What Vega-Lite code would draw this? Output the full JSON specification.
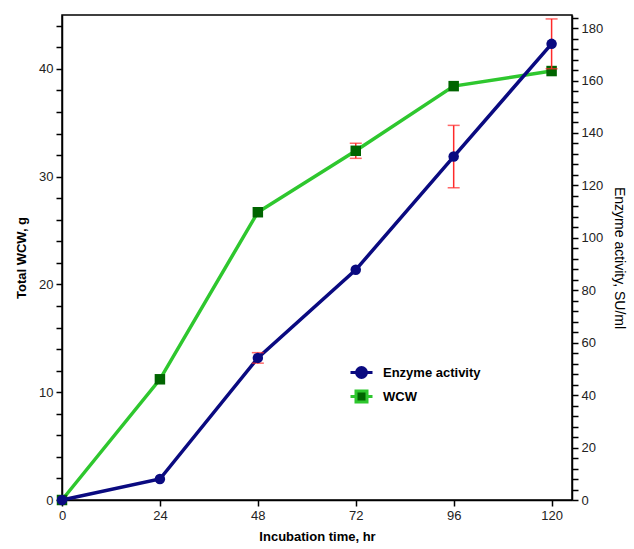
{
  "$schema": "https://vega.github.io/schema/vega-lite/v6.json",
  "width": 510,
  "height": 485,
  "autosize": {"type": "none"},
  "padding": {"left": 62, "top": 15, "right": 62, "bottom": 49},
  "background": "white",
  "config": {
    "font": "Liberation Sans",
    "view": {"stroke": "black", "strokeWidth": 1.5},
    "axis": {
      "grid": false,
      "domainColor": "black",
      "domainWidth": 1.5,
      "tickColor": "black",
      "tickWidth": 1.5,
      "tickSize": 6,
      "labelColor": "#222",
      "labelFontSize": 13,
      "labelPadding": 3,
      "labelOverlap": false,
      "labelFlush": false,
      "titleFontSize": 13,
      "titleFontWeight": "bold",
      "titleColor": "black"
    }
  },
  "data": {
    "values": [
      {"time": 0, "wcw": 0, "wcw_lo": null, "wcw_hi": null, "enz": 0, "enz_lo": null, "enz_hi": null},
      {"time": 24, "wcw": 11.2, "wcw_lo": null, "wcw_hi": null, "enz": 8.0, "enz_lo": null, "enz_hi": null},
      {"time": 48, "wcw": 26.7, "wcw_lo": null, "wcw_hi": null, "enz": 54.2, "enz_lo": 52.2, "enz_hi": 56.2},
      {"time": 72, "wcw": 32.4, "wcw_lo": 31.7, "wcw_hi": 33.1, "enz": 87.8, "enz_lo": null, "enz_hi": null},
      {"time": 96, "wcw": 38.4, "wcw_lo": null, "wcw_hi": null, "enz": 131.0, "enz_lo": 119.1, "enz_hi": 142.9},
      {"time": 120, "wcw": 39.8, "wcw_lo": null, "wcw_hi": null, "enz": 174.0, "enz_lo": 164.5, "enz_hi": 183.5}
    ]
  },
  "encoding": {
    "x": {
      "field": "time",
      "type": "quantitative",
      "scale": {"domain": [0, 125], "nice": false, "zero": false},
      "axis": {
        "title": "Incubation time, hr",
        "values": [0, 24, 48, 72, 96, 120],
        "tickCount": 100,
        "format": "d",
        "labelOverlap": false,
        "labelFlush": false,
        "titlePadding": 8
      }
    }
  },
  "layer": [
    {
      "layer": [
        {
          "mark": {"type": "line", "strokeWidth": 3.5},
          "encoding": {
            "y": {
              "field": "wcw",
              "type": "quantitative",
              "title": "Total WCW, g",
              "scale": {"domain": [0, 45], "nice": false},
              "axis": {
                "orient": "left",
                "values": [0, 2, 4, 6, 8, 10, 12, 14, 16, 18, 20, 22, 24, 26, 28, 30, 32, 34, 36, 38, 40, 42, 44],
                "tickCount": 100,
                "format": "d",
                "labelExpr": "datum.value % 10 === 0 ? datum.label : ''",
                "labelOverlap": false,
                "labelFlush": false,
                "titlePadding": 10
              }
            },
            "color": {"datum": "WCW"}
          }
        },
        {
          "transform": [{"filter": "isValid(datum.wcw_lo)"}],
          "mark": {"type": "rule", "color": "#ff2a2a", "strokeWidth": 1.5},
          "encoding": {
            "y": {"field": "wcw_lo", "type": "quantitative", "title": "Total WCW, g"},
            "y2": {"field": "wcw_hi"}
          }
        },
        {
          "transform": [{"filter": "isValid(datum.wcw_lo)"}],
          "mark": {"type": "tick", "orient": "horizontal", "size": 12, "thickness": 1.5, "color": "#ff2a2a"},
          "encoding": {"y": {"field": "wcw_lo", "type": "quantitative", "title": "Total WCW, g"}}
        },
        {
          "transform": [{"filter": "isValid(datum.wcw_hi)"}],
          "mark": {"type": "tick", "orient": "horizontal", "size": 12, "thickness": 1.5, "color": "#ff2a2a"},
          "encoding": {"y": {"field": "wcw_hi", "type": "quantitative", "title": "Total WCW, g"}}
        },
        {
          "mark": {"type": "point", "shape": "square", "filled": true, "size": 110, "color": "#006400", "opacity": 1},
          "encoding": {"y": {"field": "wcw", "type": "quantitative", "title": "Total WCW, g"}}
        }
      ]
    },
    {
      "layer": [
        {
          "mark": {"type": "line", "strokeWidth": 3.5},
          "encoding": {
            "y": {
              "field": "enz",
              "type": "quantitative",
              "title": "Enzyme activity, SU/ml",
              "scale": {"domain": [0, 185], "nice": false},
              "axis": {
                "orient": "right",
                "values": [0, 4, 8, 12, 16, 20, 24, 28, 32, 36, 40, 44, 48, 52, 56, 60, 64, 68, 72, 76, 80, 84, 88, 92, 96, 100, 104, 108, 112, 116, 120, 124, 128, 132, 136, 140, 144, 148, 152, 156, 160, 164, 168, 172, 176, 180, 184],
                "tickCount": 100,
                "format": "d",
                "labelExpr": "datum.value % 20 === 0 ? datum.label : ''",
                "labelOverlap": false,
                "labelFlush": false,
                "titleFontWeight": "normal",
                "titleFontSize": 14,
                "titlePadding": 9
              }
            },
            "color": {
              "datum": "Enzyme activity",
              "scale": {"domain": ["Enzyme activity", "WCW"], "range": ["#0a0a80", "#2ec72e"]},
              "legend": {
                "orient": "none",
                "legendX": 287,
                "legendY": 345,
                "title": null,
                "padding": 0,
                "symbolSize": 484,
                "symbolStrokeWidth": 3,
                "labelFontSize": 13,
                "labelFontWeight": "bold",
                "labelColor": "black",
                "labelOffset": 9,
                "rowPadding": -3,
                "encode": {
                  "symbols": {
                    "update": {
                      "shape": {"signal": "datum.value === 'WCW' ? 'M-1,0L-0.5,0M0.5,0L1,0M-0.5,-0.5L0.5,-0.5L0.5,0.5L-0.5,0.5Z' : 'M-1,0L-0.45,0M0.45,0L1,0M0.45,0A0.45,0.45,0,1,1,-0.45,0A0.45,0.45,0,1,1,0.45,0Z'"},
                      "fill": {"signal": "datum.value === 'WCW' ? '#006400' : '#0a0a80'"},
                      "fillOpacity": {"value": 1}
                    }
                  }
                }
              }
            }
          }
        },
        {
          "transform": [{"filter": "isValid(datum.enz_lo)"}],
          "mark": {"type": "rule", "color": "#ff2a2a", "strokeWidth": 1.5},
          "encoding": {
            "y": {"field": "enz_lo", "type": "quantitative", "title": "Enzyme activity, SU/ml"},
            "y2": {"field": "enz_hi"}
          }
        },
        {
          "transform": [{"filter": "isValid(datum.enz_lo)"}],
          "mark": {"type": "tick", "orient": "horizontal", "size": 12, "thickness": 1.5, "color": "#ff2a2a"},
          "encoding": {"y": {"field": "enz_lo", "type": "quantitative", "title": "Enzyme activity, SU/ml"}}
        },
        {
          "transform": [{"filter": "isValid(datum.enz_hi)"}],
          "mark": {"type": "tick", "orient": "horizontal", "size": 12, "thickness": 1.5, "color": "#ff2a2a"},
          "encoding": {"y": {"field": "enz_hi", "type": "quantitative", "title": "Enzyme activity, SU/ml"}}
        },
        {
          "mark": {"type": "point", "shape": "circle", "filled": true, "size": 110, "color": "#0a0a80", "opacity": 1},
          "encoding": {"y": {"field": "enz", "type": "quantitative", "title": "Enzyme activity, SU/ml"}}
        }
      ]
    }
  ],
  "resolve": {"scale": {"y": "independent"}}
}
